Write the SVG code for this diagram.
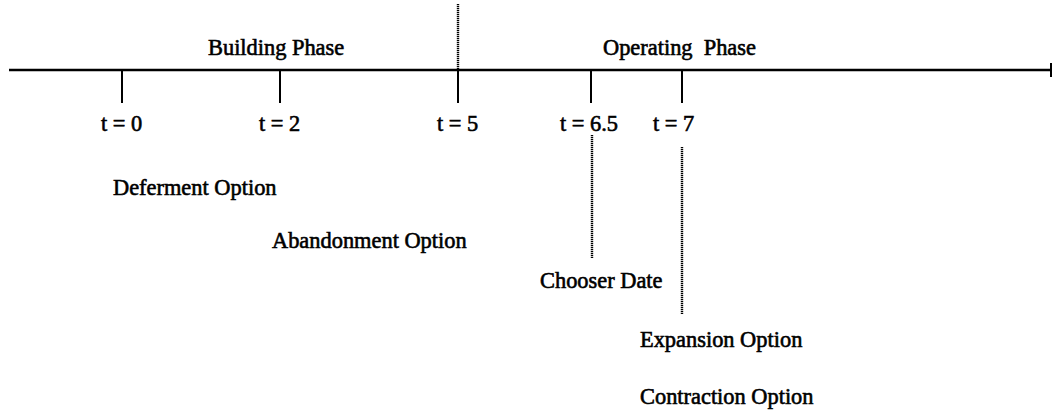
<svg xmlns="http://www.w3.org/2000/svg" width="1053" height="412" viewBox="0 0 1053 412">
<style>
text{font-family:"Liberation Serif","Times New Roman",serif;font-size:22.4px;fill:#000;stroke:#000;stroke-width:0.6}
.ax{stroke:#000;stroke-width:2.6;fill:none}
.tk{stroke:#000;stroke-width:2;fill:none}
.dt{stroke:#000;stroke-width:2.4;stroke-dasharray:1.2 0.8;fill:none}
</style>
<rect width="1053" height="412" fill="#fff"/>
<g id="connectors">
<line class="ax" x1="9" y1="70" x2="1051" y2="70"/>
<line class="tk" x1="1051" y1="63" x2="1051" y2="77"/>
<line class="tk" x1="122" y1="70" x2="122" y2="103"/>
<line class="tk" x1="280" y1="70" x2="280" y2="103"/>
<line class="tk" x1="458" y1="70" x2="458" y2="103"/>
<line class="tk" x1="591" y1="70" x2="591" y2="103"/>
<line class="tk" x1="682" y1="70" x2="682" y2="103"/>
<line class="dt" x1="458" y1="4" x2="458" y2="70"/>
<line class="dt" x1="592" y1="135" x2="592" y2="258"/>
<line class="dt" x1="682" y1="147" x2="682" y2="314"/>
</g>
<g id="phase-building"><text x="208" y="55">Building Phase</text></g>
<g id="phase-operating"><text x="603" y="55" xml:space="preserve">Operating  Phase</text></g>
<g id="t0"><text x="101" y="131">t = 0</text></g>
<g id="t2"><text x="259" y="131">t = 2</text></g>
<g id="t5"><text x="437" y="131">t = 5</text></g>
<g id="t65"><text x="560" y="131">t = 6.5</text></g>
<g id="t7"><text x="653" y="131">t = 7</text></g>
<g id="deferment"><text x="113" y="195">Deferment Option</text></g>
<g id="abandonment"><text x="272" y="248">Abandonment Option</text></g>
<g id="chooser"><text x="540" y="288">Chooser Date</text></g>
<g id="expansion"><text x="640" y="347">Expansion Option</text></g>
<g id="contraction"><text x="640" y="404">Contraction Option</text></g>
</svg>
